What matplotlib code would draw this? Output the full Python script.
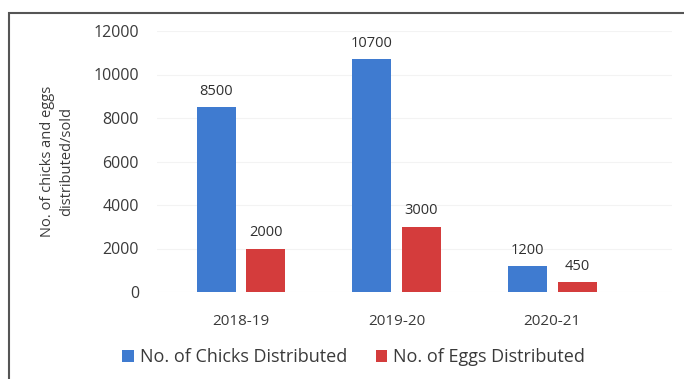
import matplotlib.pyplot as plt
import numpy as np
from matplotlib.patches import Rectangle

years = ['2018-19', '2019-20', '2020-21']
chicks = [8500, 10700, 1200]
eggs = [2000, 3000, 450]

plt.rcParams['font.family'] = ['Open Sans', 'DejaVu Sans']
txt = '#3a3a3a'

fig = plt.figure(figsize=(6.84, 3.79), dpi=100)
ax = fig.add_axes([157 / 684, 1 - 292 / 379, (672 - 157) / 684, (292 - 31) / 379])

x = np.arange(len(years))
w = 0.25
off = 0.16
b1 = ax.bar(x - off, chicks, w, color='#3f7bd0', label='No. of Chicks Distributed')
b2 = ax.bar(x + off, eggs, w, color='#d43c3c', label='No. of Eggs Distributed')
ax.bar_label(b1, padding=6, fontsize=10.5, color='#303030')
ax.bar_label(b2, padding=6, fontsize=10.5, color='#303030')

ax.set_xlim(-0.54, 2.77)
ax.set_ylim(0, 12000)
ax.set_yticks(range(0, 12001, 2000))
ax.set_xticks(x)
ax.set_xticklabels(years)
ax.tick_params(length=0, colors=txt, labelsize=11)
ax.tick_params(axis='y', pad=13, labelsize=11.5)
ax.tick_params(axis='x', pad=16)
for s in ax.spines.values():
    s.set_visible(False)
ax.grid(axis='y', color='#f3f3f3', lw=0.8)
ax.set_axisbelow(True)

fig.text(57 / 684, 1 - 161 / 379, 'No. of chicks and eggs\ndistributed/sold', rotation=90,
         ha='center', va='center', fontsize=10.5, color=txt, linespacing=1.4)

fig.legend(loc='center', bbox_to_anchor=(0.517, 0.058), ncol=2, frameon=False,
           fontsize=13, labelcolor=txt, handlelength=0.65, handleheight=0.65,
           handletextpad=0.3, columnspacing=1.6)

fig.patches.append(Rectangle((9 / 684, -0.1), 1.2, 1 - 13 / 379 + 0.1, transform=fig.transFigure,
                             fill=False, edgecolor='#555555', lw=1.5))

fig.savefig('out.png', dpi=100)
